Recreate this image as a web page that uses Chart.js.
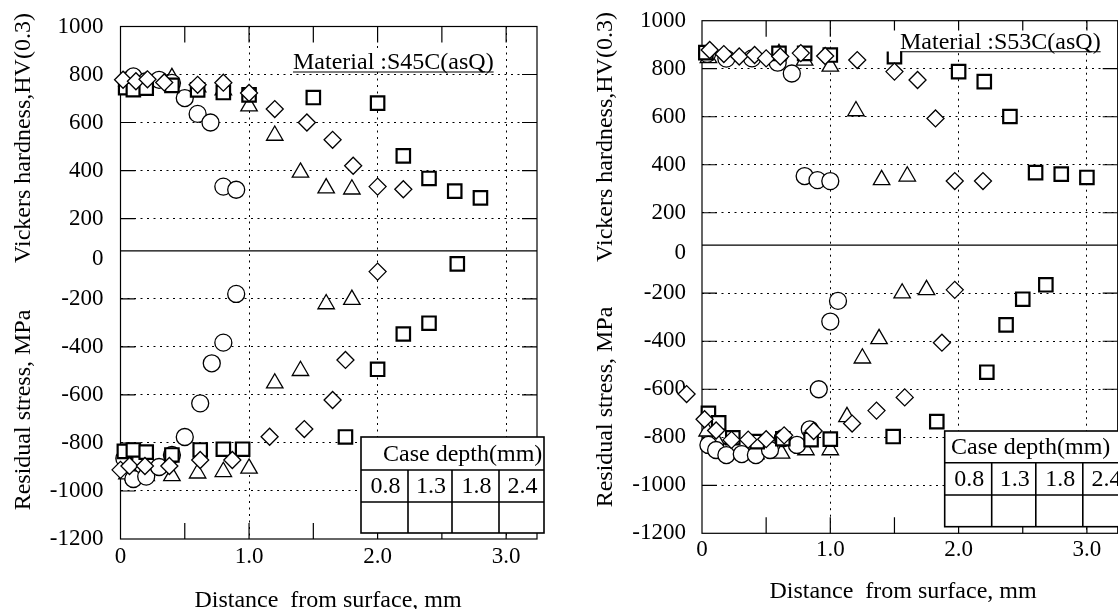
<!DOCTYPE html>
<html lang="en">
<head>
<meta charset="UTF-8" />
<title>Hardness and residual stress profiles</title>
<script src="https://cdn.jsdelivr.net/npm/chart.js"></script>
<style>
  html, body { margin: 0; padding: 0; background: #fff; overflow: hidden; }
  body { width: 1118px; height: 609px; position: relative; }
  .panel { position: absolute; top: 0; }
</style>
</head>
<body>
<div class="panel" style="left:0"><canvas id="s45c" width="560" height="609"></canvas></div>
<div class="panel" style="left:560px"><canvas id="s53c" width="600" height="609"></canvas></div>

<script>
// axis ticks
const hvTicks = [200, 400, 600, 800, 1000];
const stressTicks = [-1200, -1000, -800, -600, -400, -200];
const xTicks = [0, 0.5, 1, 1.5, 2, 2.5, 3];
const xLabels = ['0', '', '1.0', '', '2.0', '', '3.0'];
const caseDepths = ['0.8', '1.3', '1.8', '2.4'];

// S45C (asQ): hardness HV(0.3) vs distance from surface (mm)
const s45cHv08X = [0.05, 0.1, 0.2, 0.3, 0.4, 0.5, 0.6, 0.7, 0.8, 0.9];
const s45cHv08 = [775, 792, 772, 778, 765, 702, 636, 600, 333, 320];
const s45cHv13X = [0.05, 0.1, 0.2, 0.4, 0.6, 0.8, 1.0, 1.2, 1.4, 1.6, 1.8];
const s45cHv13 = [772, 780, 772, 786, 748, 735, 668, 546, 392, 327, 322];
const s45cHv18X = [0.02, 0.12, 0.21, 0.34, 0.6, 0.8, 1.0, 1.2, 1.45, 1.65, 1.81, 2.0, 2.2];
const s45cHv18 = [778, 772, 780, 767, 757, 766, 723, 656, 600, 528, 420, 333, 322];
const s45cHv24X = [0.04, 0.1, 0.2, 0.4, 0.6, 0.8, 1.0, 1.5, 2.0, 2.2, 2.4, 2.6, 2.8];
const s45cHv24 = [745, 737, 743, 755, 736, 725, 715, 704, 681, 461, 367, 314, 286];

// S45C (asQ): residual stress (MPa)
const s45cRs08X = [0.03, 0.1, 0.2, 0.3, 0.4, 0.5, 0.62, 0.71, 0.8, 0.9];
const s45cRs08 = [-865, -950, -940, -900, -850, -775, -635, -468, -382, -179];
const s45cRs13X = [0.05, 0.1, 0.2, 0.4, 0.6, 0.8, 1.0, 1.2, 1.4, 1.6, 1.8];
const s45cRs13 = [-930, -935, -937, -937, -926, -920, -906, -551, -499, -221, -203];
const s45cRs18X = [0.0, 0.07, 0.19, 0.38, 0.62, 0.87, 1.16, 1.43, 1.65, 1.75, 2.0];
const s45cRs18 = [-912, -896, -896, -896, -871, -871, -774, -742, -621, -454, -86];
const s45cRs24X = [0.03, 0.1, 0.2, 0.4, 0.62, 0.8, 0.95, 1.75, 2.0, 2.2, 2.4, 2.62];
const s45cRs24 = [-835, -829, -838, -850, -829, -826, -826, -775, -493, -346, -301, -54];

// S53C (asQ): hardness HV(0.3)
const s53cHv08X = [0.04, 0.19, 0.39, 0.59, 0.7, 0.8, 0.9, 1.0];
const s53cHv08 = [862, 842, 843, 825, 780, 353, 336, 332];
const s53cHv13X = [0.05, 0.6, 0.8, 1.0, 1.2, 1.4, 1.6];
const s53cHv13 = [845, 862, 835, 810, 624, 337, 352];
const s53cHv18X = [0.06, 0.17, 0.29, 0.41, 0.5, 0.61, 0.77, 0.96, 1.21, 1.5, 1.68, 1.82, 1.97, 2.19];
const s53cHv18 = [878, 861, 851, 857, 843, 851, 865, 853, 836, 788, 753, 593, 332, 332];
const s53cHv24X = [0.03, 0.6, 0.8, 1.0, 1.5, 2.0, 2.2, 2.4, 2.6, 2.8, 3.0];
const s53cHv24 = [867, 864, 864, 857, 850, 788, 746, 601, 367, 361, 347];

// S53C (asQ): residual stress (MPa)
const s53cRs08X = [0.05, 0.11, 0.19, 0.31, 0.42, 0.53, 0.63, 0.74, 0.84, 0.91, 1.0, 1.06];
const s53cRs08 = [-832, -853, -874, -870, -874, -853, -804, -832, -767, -600, -318, -232];
const s53cRs13X = [0.04, 0.11, 0.19, 0.42, 0.62, 0.81, 1.0, 1.13, 1.25, 1.38, 1.56, 1.75];
const s53cRs13 = [-775, -811, -853, -870, -867, -853, -853, -715, -471, -390, -200, -186];
const s53cRs18X = [-0.12, 0.02, 0.11, 0.23, 0.36, 0.5, 0.64, 0.87, 1.17, 1.36, 1.58, 1.87, 1.97];
const s53cRs18 = [-620, -725, -772, -811, -810, -808, -792, -774, -743, -689, -634, -406, -186];
const s53cRs24X = [0.05, 0.13, 0.24, 0.43, 0.63, 0.85, 1.0, 1.49, 1.83, 2.22, 2.37, 2.5, 2.68];
const s53cRs24 = [-700, -740, -802, -818, -806, -810, -808, -797, -735, -529, -332, -225, -165];

const FONT = "'Liberation Serif', 'Times New Roman', serif";
const CANVAS_H = 609;
const X_MAX = 3.24;
// stress axis and hardness axis share the frame; hardness is shifted up by HV_SHIFT units
const STRESS_MIN = -1200, STRESS_MAX = 935;
const HV_SHIFT = 65;
const CLEAR = 'rgba(0,0,0,0)';

// tick list on the shared left axis: stress ticks, the stress zero line, hardness ticks
const yTicks = (() => {
  const list = stressTicks.map(v => ({ value: v, label: String(v), kind: v === STRESS_MIN ? 'edge' : 'grid' }));
  list.push({ value: 0, label: '', kind: 'zero' });
  list.push({ value: -HV_SHIFT / 2, label: '0', kind: 'none' });
  hvTicks.forEach(h => list.push({ value: h - HV_SHIFT, label: String(h), kind: h === 1000 ? 'edge' : 'grid' }));
  return list.sort((a, b) => a.value - b.value);
})();

const pts = (xs, ys) => xs.map((x, i) => ({ x: x, y: ys[i] }));

const markers = [
  { style: 'rectRot', radius: 8.5, width: 1.3 },   // 1.8 mm
  { style: 'rect', radius: 9.5, width: 2.2 },      // 2.4 mm
  { style: 'circle', radius: 8.5, width: 1.3 },    // 0.8 mm
  { style: 'triangle', radius: 9.5, width: 1.3 }   // 1.3 mm
];

function series(m, data, axis) {
  return {
    data: data,
    yAxisID: axis,
    pointStyle: m.style,
    pointRadius: m.radius,
    pointHoverRadius: m.radius,
    pointBorderWidth: m.width,
    pointBorderColor: '#000',
    pointBackgroundColor: '#fff',
    showLine: false,
    clip: false
  };
}

// frame, zero line, inward tick marks, labels, case depth table
const panelDecor = {
  id: 'panelDecor',
  beforeDatasetsDraw(chart) {
    const { ctx, chartArea: a, scales } = chart;
    ctx.save();
    ctx.strokeStyle = '#000';
    ctx.lineWidth = 1.2;
    ctx.beginPath();
    const y0 = scales.y.getPixelForValue(0);
    ctx.moveTo(a.left, y0);
    ctx.lineTo(a.right, y0);
    yTicks.forEach(t => {
      if (t.kind !== 'grid') return;
      const py = scales.y.getPixelForValue(t.value);
      ctx.moveTo(a.left, py); ctx.lineTo(a.left + 15, py);
      ctx.moveTo(a.right - 15, py); ctx.lineTo(a.right, py);
    });
    xTicks.forEach(v => {
      if (v === 0) return;
      const px = scales.x.getPixelForValue(v);
      ctx.moveTo(px, a.top); ctx.lineTo(px, a.top + 16);
      ctx.moveTo(px, a.bottom - 16); ctx.lineTo(px, a.bottom);
    });
    ctx.stroke();
    ctx.strokeRect(a.left, a.top, a.right - a.left, a.bottom - a.top);
    ctx.restore();
  },
  afterDatasetsDraw(chart, args, o) {
    const ctx = chart.ctx;
    const a = chart.chartArea;
    ctx.save();

    // points left of the frame are skipped by the point element, draw them here
    const wide = { left: -1e4, top: -1e4, right: 1e4, bottom: 1e4 };
    chart.getSortedVisibleDatasetMetas().forEach(meta => {
      meta.data.forEach(el => { if (el.x < a.left - 3) el.draw(ctx, wide); });
    });

    ctx.fillStyle = '#000';
    ctx.font = '24px ' + FONT;

    // material label on a white box, underlined
    const m = o.material;
    const tw = ctx.measureText(m.text).width;
    ctx.fillStyle = '#fff';
    ctx.fillRect(m.x - 14, m.y - 18, tw + 22, 21);
    ctx.fillStyle = '#000';
    ctx.textAlign = 'left';
    ctx.textBaseline = 'alphabetic';
    ctx.fillText(m.text, m.x, m.y);
    ctx.strokeStyle = '#000';
    ctx.lineWidth = 1.1;
    ctx.beginPath();
    ctx.moveTo(m.x, m.line); ctx.lineTo(m.x + tw, m.line);
    ctx.stroke();

    // case depth table
    const t = o.table;
    const cols = t.cols, rows = t.rows;
    const L = cols[0], R = cols[cols.length - 1], T = rows[0], B = rows[rows.length - 1];
    ctx.fillStyle = '#fff';
    ctx.fillRect(L, T, R - L, B - T);
    ctx.lineWidth = 1.6;
    ctx.strokeRect(L, T, R - L, B - T);
    ctx.beginPath();
    rows.slice(1, -1).forEach(r => { ctx.moveTo(L, r); ctx.lineTo(R, r); });
    cols.slice(1, -1).forEach(c => { ctx.moveTo(c, rows[1]); ctx.lineTo(c, B); });
    ctx.stroke();
    ctx.fillStyle = '#000';
    ctx.textBaseline = 'middle';
    ctx.textAlign = 'left';
    ctx.fillText('Case depth(mm)', t.titleX, (rows[0] + rows[1]) / 2 + 1);
    ctx.textAlign = 'center';
    caseDepths.forEach((d, i) => {
      ctx.fillText(d, (cols[i] + cols[i + 1]) / 2 + 1, (rows[1] + rows[2]) / 2 + 1);
    });

    // axis titles
    const ti = o.titles;
    ctx.textAlign = 'center';
    ctx.fillText('Distance  from surface, mm', ti.x[0], ti.x[1]);
    [[ti.hv, 'Vickers hardness,HV(0.3)'], [ti.rs, 'Residual stress, MPa']].forEach(([p, s]) => {
      ctx.save();
      ctx.translate(p[0], p[1]);
      ctx.rotate(-Math.PI / 2);
      ctx.fillText(s, 0, 0);
      ctx.restore();
    });
    ctx.restore();
  }
};

function makePanel(id, width, area, pads, hv, rs, decor) {
  const font = { family: FONT, size: 23 };
  new Chart(document.getElementById(id), {
    type: 'scatter',
    data: {
      datasets: [
        series(markers[0], pts(hv[2][0], hv[2][1]), 'hv'),
        series(markers[0], pts(rs[2][0], rs[2][1]), 'y'),
        series(markers[1], pts(hv[3][0], hv[3][1]), 'hv'),
        series(markers[1], pts(rs[3][0], rs[3][1]), 'y'),
        series(markers[2], pts(hv[0][0], hv[0][1]), 'hv'),
        series(markers[2], pts(rs[0][0], rs[0][1]), 'y'),
        series(markers[3], pts(hv[1][0], hv[1][1]), 'hv'),
        series(markers[3], pts(rs[1][0], rs[1][1]), 'y')
      ]
    },
    options: {
      responsive: false,
      animation: false,
      events: [],
      layout: { padding: { left: 0, top: area.top, right: width - area.right, bottom: 0 } },
      plugins: { legend: { display: false }, tooltip: { enabled: false }, panelDecor: decor },
      scales: {
        x: {
          type: 'linear', min: 0, max: X_MAX,
          afterBuildTicks: s => { s.ticks = xTicks.map(v => ({ value: v })); },
          afterFit: s => { s.height = CANVAS_H - area.bottom; s.paddingLeft = 0; s.paddingRight = 0; },
          ticks: { autoSkip: false, maxRotation: 0, padding: pads.x, font: font, color: '#000',
                   callback: (v, i) => xLabels[i] },
          grid: { drawTicks: false, lineWidth: 1,
                  color: c => (c.tick && c.tick.value > 0 && Number.isInteger(c.tick.value)) ? '#000' : CLEAR },
          border: { display: false, dash: [2, 4.5] }
        },
        y: {
          type: 'linear', position: 'left', min: STRESS_MIN, max: STRESS_MAX,
          afterBuildTicks: s => { s.ticks = yTicks.map(t => ({ value: t.value })); },
          afterFit: s => { s.width = area.left; s.paddingTop = 0; s.paddingBottom = 0; },
          ticks: { autoSkip: false, padding: pads.y, font: font, color: '#000',
                   callback: (v, i) => yTicks[i] ? yTicks[i].label : '' },
          grid: { drawTicks: false, lineWidth: 1,
                  color: c => (yTicks[c.index] && yTicks[c.index].kind === 'grid') ? '#000' : CLEAR },
          border: { display: false, dash: [2, 4.5] }
        },
        hv: {
          type: 'linear', display: false, min: STRESS_MIN + HV_SHIFT, max: STRESS_MAX + HV_SHIFT
        }
      }
    },
    plugins: [panelDecor]
  });
}

makePanel('s45c', 560,
  { left: 120.5, top: 26.5, right: 537, bottom: 539 }, { x: 4, y: 17 },
  [[s45cHv08X, s45cHv08], [s45cHv13X, s45cHv13], [s45cHv18X, s45cHv18], [s45cHv24X, s45cHv24]],
  [[s45cRs08X, s45cRs08], [s45cRs13X, s45cRs13], [s45cRs18X, s45cRs18], [s45cRs24X, s45cRs24]],
  {
    material: { text: 'Material :S45C(asQ)', x: 293, y: 69, line: 72 },
    table: { cols: [361, 408, 452, 499, 544], rows: [437, 470, 502, 533], titleX: 383 },
    titles: { x: [328, 601], hv: [24, 138], rs: [24, 410] }
  });

makePanel('s53c', 600,
  { left: 142, top: 20.7, right: 557.7, bottom: 533.3 }, { x: 3, y: 16 },
  [[s53cHv08X, s53cHv08], [s53cHv13X, s53cHv13], [s53cHv18X, s53cHv18], [s53cHv24X, s53cHv24]],
  [[s53cRs08X, s53cRs08], [s53cRs13X, s53cRs13], [s53cRs18X, s53cRs18], [s53cRs24X, s53cRs24]],
  {
    material: { text: 'Material :S53C(asQ)', x: 340, y: 48.5, line: 51.7 },
    table: { cols: [384.7, 431.7, 475.8, 522.8, 568], rows: [431, 462.7, 495, 526.7], titleX: 391 },
    titles: { x: [343, 592], hv: [46, 137], rs: [46, 407] }
  });
</script>
</body>
</html>
